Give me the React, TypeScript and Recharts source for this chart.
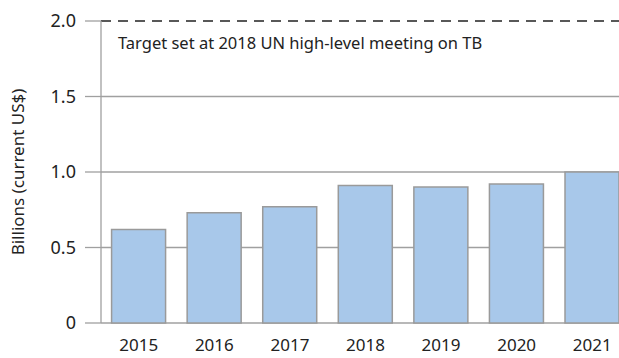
import { BarChart, Bar, XAxis, YAxis, CartesianGrid, ReferenceLine } from 'recharts'

// Funding for TB research, billions of current US$
const YEARS = ['2015', '2016', '2017', '2018', '2019', '2020', '2021']
const FUNDING = [0.62, 0.73, 0.77, 0.91, 0.9, 0.92, 1.0]
const Y_TICKS = [0, 0.5, 1, 1.5, 2]
const TARGET = 2
const TARGET_LABEL = 'Target set at 2018 UN high-level meeting on TB'

const FONT = '"Noto Sans", sans-serif'
const TEXT = '#222'
const GRID = '#a0a0a0'

const data = YEARS.map((year, i) => ({ year, value: FUNDING[i] }))

export default function App() {
  return (
    <div
      style={{
        position: 'absolute',
        left: 0,
        top: 0,
        width: 619,
        height: 358,
        overflow: 'hidden',
        background: '#fff',
        fontFamily: FONT,
      }}
    >
      <BarChart
        width={640}
        height={358}
        data={data}
        margin={{ top: 21, right: 10, bottom: 0, left: 0 }}
        barCategoryGap="14%"
      >
        <CartesianGrid
          vertical={false}
          stroke={GRID}
          strokeWidth={1.3}
          horizontalValues={[0, 0.5, 1, 1.5]}
        />
        <XAxis
          dataKey="year"
          axisLine={false}
          tickLine={false}
          tickSize={0}
          tickMargin={16}
          height={35}
          interval={0}
          tick={{ fill: TEXT, fontSize: 17, fontFamily: FONT }}
        />
        <YAxis
          width={101}
          domain={[0, 2]}
          ticks={Y_TICKS}
          interval={0}
          tickFormatter={(v: number) => (v === 0 ? '0' : v.toFixed(1))}
          axisLine={{ stroke: GRID, strokeWidth: 1.3 }}
          tickLine={{ stroke: GRID, strokeWidth: 1.3 }}
          tickSize={16}
          tickMargin={9}
          tick={{ fill: TEXT, fontSize: 18, fontFamily: FONT }}
          label={{
            value: 'Billions (current US$)',
            angle: -90,
            position: 'insideLeft',
            offset: 18,
            style: { textAnchor: 'middle', fill: TEXT, fontSize: 17, fontFamily: FONT },
          }}
        />
        <Bar
          dataKey="value"
          fill="#a8c8ea"
          stroke="#9a9a9a"
          strokeWidth={1.5}
          isAnimationActive={false}
        />
        <ReferenceLine
          y={TARGET}
          stroke="#222"
          strokeWidth={1.3}
          strokeDasharray="10 7"
          label={{
            content: (props: any) => (
              <text
                x={props.viewBox.x + 17}
                y={props.viewBox.y + 28}
                fill={TEXT}
                fontSize={16.5}
                fontFamily={FONT}
              >
                {TARGET_LABEL}
              </text>
            ),
          }}
        />
      </BarChart>
    </div>
  )
}
